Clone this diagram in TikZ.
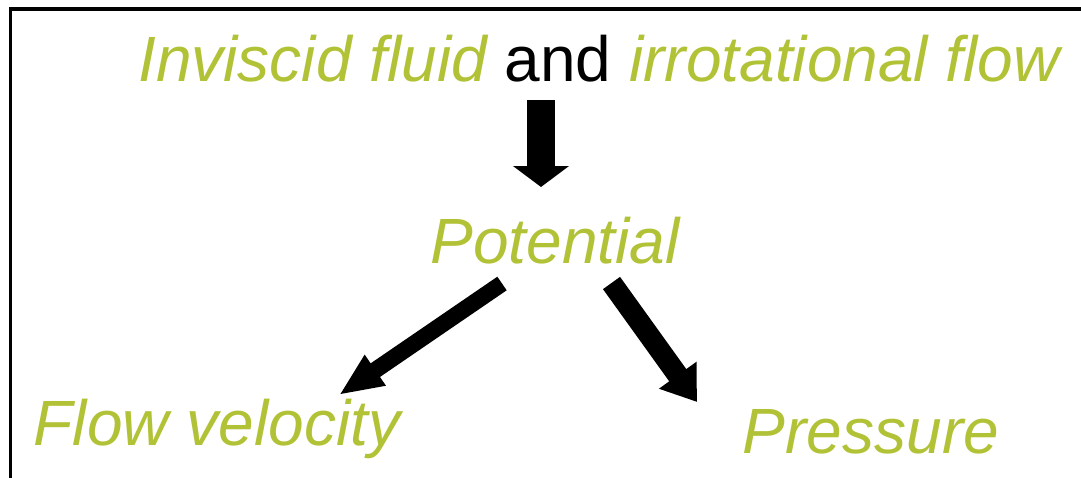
\documentclass[tikz,border=0pt]{standalone}
\usepackage{fontspec}
\setmainfont{Liberation Sans}
\usetikzlibrary{arrows.meta}
\definecolor{olive}{RGB}{178,194,55}
\tikzset{
  lbl/.style={anchor=base, inner sep=0pt, outer sep=0pt, text=olive,
    font=\fontsize{64}{64}\selectfont\itshape},
  blk/.style={draw=black, line cap=butt},
}
\begin{document}
\begin{tikzpicture}[x=1pt,y=-1pt]
\useasboundingbox (0,0) rectangle (1081,477);
\draw[line width=3.5pt] (1090,9) -- (10.5,9) -- (10.5,490);
\node[lbl] (top) at (599,81) {Inviscid fluid \textcolor{black}{\upshape and} irrotational flow};
\node[lbl] (pot) at (555,263) {Potential};
\node[lbl] (vel) at (217,445) {Flow velocity};
\node[lbl] (pre) at (871,453) {Pressure};
\coordinate (a1) at (541,100);
\coordinate (b1) at (541,187);
\coordinate (a2) at (502,283.5);
\coordinate (b2) at (339,395);
\coordinate (a3) at (611.5,283);
\coordinate (b3) at (697,402);
\draw[blk, line width=28pt, -{Triangle[length=21pt,width=55pt]}] (a1) -- (b1);
\draw[blk, line width=16.5pt, -{Triangle[length=44pt,width=34pt]}] (a2) -- (b2);
\draw[blk, line width=21pt, -{Triangle[length=33pt,width=44pt]}] (a3) -- (b3);
\end{tikzpicture}
\end{document}
